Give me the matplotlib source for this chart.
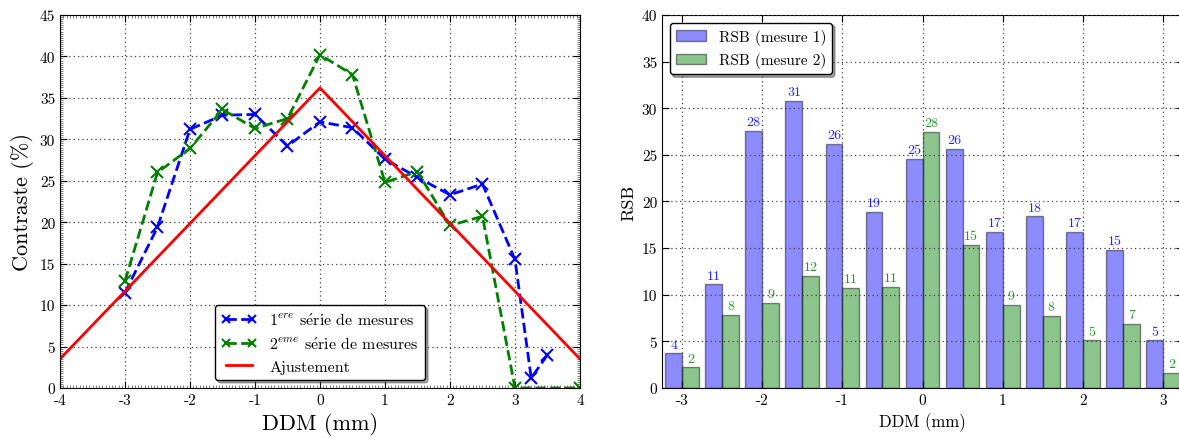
import numpy as np
import matplotlib
matplotlib.use('Agg')
import matplotlib.pyplot as plt
from matplotlib.ticker import MultipleLocator

plt.rcParams['font.family'] = ['cmr10', 'DejaVu Serif']
plt.rcParams['mathtext.fontset'] = 'cm'
plt.rcParams['axes.unicode_minus'] = False
plt.rcParams['axes.formatter.use_mathtext'] = False
plt.rcParams['xtick.direction'] = 'in'
plt.rcParams['ytick.direction'] = 'in'
plt.rcParams['xtick.top'] = True
plt.rcParams['ytick.right'] = True

#=======================================================================================
# Data
#=======================================================================================

# contraste, serie 1
x1 = [-3, -2.5, -2, -1.5, -1, -0.5, 0, 0.5, 1, 1.5, 2, 2.5, 3, 3.25, 3.5]
c1 = [11.5, 19.4, 31.2, 32.9, 33.0, 29.2, 32.1, 31.4, 27.6, 25.4, 23.3, 24.6, 15.5, 1.2, 4.0]
# contraste, serie 2
x2 = [-3, -2.5, -2, -1.5, -1, -0.5, 0, 0.5, 1, 1.5, 2, 2.5, 3, 4]
c2 = [12.9, 26.0, 28.9, 33.6, 31.3, 32.5, 40.2, 37.8, 24.8, 26.1, 19.6, 20.7, 0.0, 0.0]
# ajustement
xfit = [-4, 0, 4]
cfit = [3.5, 36.2, 3.5]

# RSB
ddm = [-3, -2.5, -2, -1.5, -1, -0.5, 0, 0.5, 1, 1.5, 2, 2.5, 3]
rsb1 = [3.7, 11.1, 27.6, 30.8, 26.2, 18.9, 24.6, 25.6, 16.7, 18.4, 16.7, 14.8, 5.1]
rsb2 = [2.2, 7.8, 9.1, 12.0, 10.7, 10.8, 27.5, 15.3, 8.9, 7.7, 5.1, 6.9, 1.6]

#=======================================================================================
# Figure
#=======================================================================================

fig = plt.figure(figsize=(11.79, 4.39), dpi=100)
ax1 = fig.add_axes([0.0509, 0.114, 0.441, 0.8497])
ax2 = fig.add_axes([0.5615, 0.114, 0.442, 0.8497])

grid_kw = dict(ls=(0, (1, 2.5)), color='0.25', lw=0.9)

#--- contraste
ax1.plot(x1, c1, 'x--', color='b', lw=2, ms=9, mew=1.5, label=r'$1^{ere}$ s$\acute{\mathrm{e}}$rie de mesures')
ax1.plot(x2, c2, 'x--', color='g', lw=2, ms=9, mew=1.5, label=r'$2^{eme}$ s$\acute{\mathrm{e}}$rie de mesures')
ax1.plot(xfit, cfit, '-', color='r', lw=2, label='Ajustement')
ax1.set_xlim(-4, 4)
ax1.set_ylim(0, 45)
ax1.xaxis.set_major_locator(MultipleLocator(1))
ax1.yaxis.set_major_locator(MultipleLocator(5))
ax1.xaxis.set_minor_locator(MultipleLocator(0.05))
ax1.yaxis.set_minor_locator(MultipleLocator(0.25))
ax1.tick_params(which='minor', length=2, width=0.5, color='0.3')
ax1.tick_params(which='major', length=5, labelsize=11)
ax1.grid(True, **grid_kw)
ax1.set_xlabel('DDM (mm)', fontsize=16)
ax1.set_ylabel('Contraste (%)', fontsize=16)
ax1.legend(loc='lower center', numpoints=2, fancybox=True, shadow=True, fontsize=11.5,
           handlelength=2.2, markerscale=0.7, framealpha=1, edgecolor='k')

#--- RSB
w = 0.21
ax2.bar(np.array(ddm) - w/2, rsb1, w, color='b', alpha=0.45, edgecolor='k', lw=1, label='RSB (mesure 1)')
ax2.bar(np.array(ddm) + w/2, rsb2, w, color='g', alpha=0.45, edgecolor='k', lw=1, label='RSB (mesure 2)')
for xx, v in zip(ddm, rsb1):
	ax2.text(xx - w/2, v + 0.3, '%d' % int(round(v)), ha='center', va='bottom', fontsize=10, color='#2222ff')
for xx, v in zip(ddm, rsb2):
	ax2.text(xx + w/2, v + 0.3, '%d' % int(round(v)), ha='center', va='bottom', fontsize=10, color='#229922')
ax2.set_xlim(-3.25, 3.25)
ax2.set_ylim(0, 40)
ax2.xaxis.set_major_locator(MultipleLocator(1))
ax2.yaxis.set_major_locator(MultipleLocator(5))
ax2.tick_params(which='major', length=5, labelsize=11)
ax2.grid(True, **grid_kw)
ax2.set_axisbelow(False)
ax2.set_xlabel('DDM (mm)', fontsize=12)
ax2.set_ylabel('RSB', fontsize=13)
ax2.legend(loc='upper left', fancybox=True, shadow=True, fontsize=11, framealpha=1, edgecolor='k')

plt.savefig('out.png', dpi=100)
plt.close()
